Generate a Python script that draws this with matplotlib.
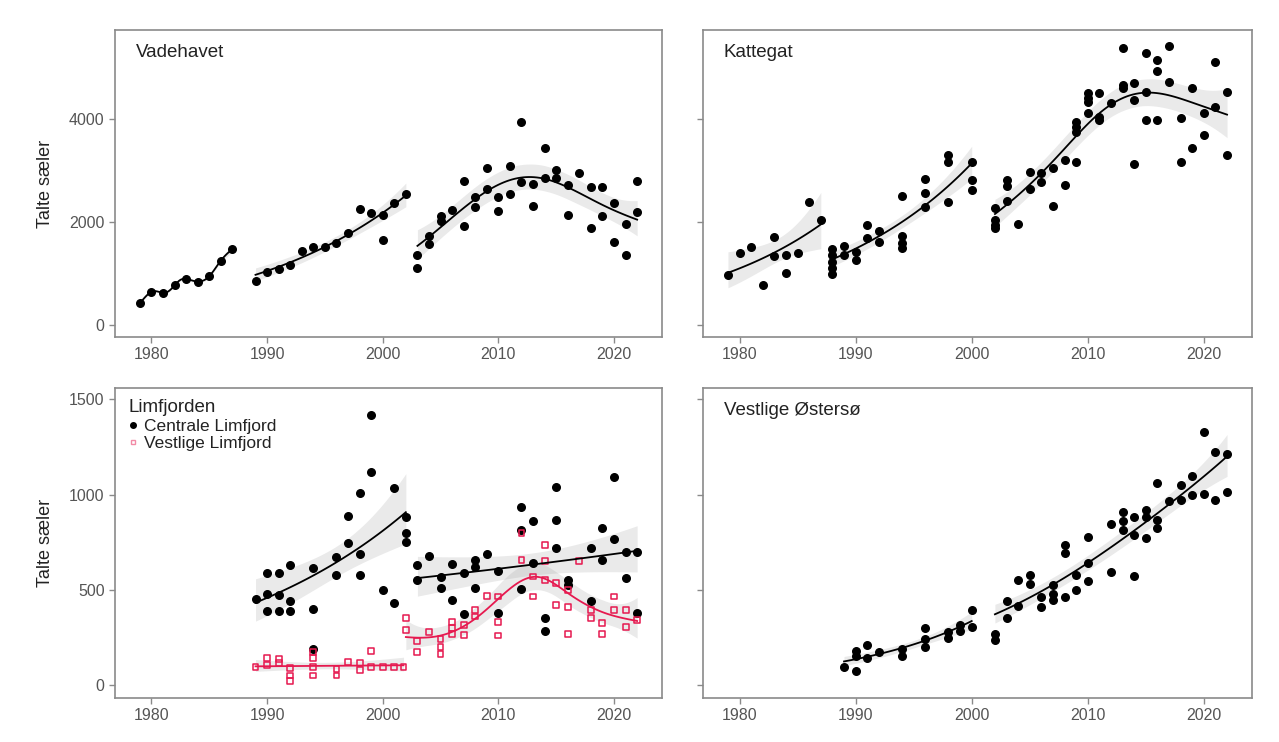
import numpy as np
import matplotlib.pyplot as plt
from matplotlib.lines import Line2D

plt.rcParams['font.family'] = ['Liberation Sans', 'DejaVu Sans']

# --- Data ---
# Vadehavet
vade_years = [1979, 1980, 1981, 1982, 1983, 1984, 1985, 1986, 1987,
              1989, 1990, 1991, 1992, 1993, 1994, 1995, 1996, 1997, 1998, 1999, 2000, 2000, 2001, 2002,
              2003, 2003, 2004, 2004, 2005, 2005, 2006, 2007, 2007, 2008, 2008, 2009, 2009, 2010, 2010,
              2011, 2011, 2012, 2012, 2013, 2013, 2014, 2014, 2015, 2015, 2016, 2016, 2017, 2018, 2018,
              2019, 2019, 2020, 2020, 2021, 2021, 2022, 2022]
vade_counts = [420, 650, 620, 770, 900, 840, 950, 1250, 1470,
               860, 1030, 1080, 1160, 1440, 1520, 1520, 1600, 1790, 2250, 2180, 2130, 1650, 2360, 2550,
               1100, 1360, 1580, 1720, 2020, 2110, 2230, 2800, 1930, 2480, 2300, 3040, 2650, 2480, 2220,
               3090, 2540, 3950, 2770, 2740, 2320, 3430, 2850, 3010, 2850, 2720, 2140, 2960, 2670, 1880,
               2670, 2120, 2370, 1620, 1970, 1350, 2800, 2200]
vade_segments = [(1979, 1987), (1989, 2002), (2003, 2022)]

# Kattegat
katt_years = [1979, 1980, 1981, 1982, 1983, 1983, 1984, 1984, 1985, 1986, 1987,
              1988, 1988, 1988, 1988, 1988, 1989, 1989, 1990, 1990, 1991, 1991, 1992, 1992,
              1994, 1994, 1994, 1994, 1996, 1996, 1996, 1998, 1998, 1998, 2000, 2000, 2000,
              2002, 2002, 2002, 2002, 2003, 2003, 2003, 2004, 2005, 2005, 2006, 2006, 2007, 2007,
              2008, 2008, 2009, 2009, 2009, 2009, 2010, 2010, 2010, 2010, 2011, 2011, 2011, 2012,
              2013, 2013, 2013, 2014, 2014, 2014, 2015, 2015, 2015, 2016, 2016, 2016, 2017, 2017,
              2018, 2018, 2019, 2019, 2020, 2020, 2021, 2021, 2022, 2022]
katt_counts = [980, 1390, 1510, 780, 1710, 1340, 1360, 1000, 1390, 2390, 2030,
               1480, 1350, 1230, 1100, 990, 1540, 1360, 1420, 1260, 1940, 1680, 1830, 1620,
               2510, 1720, 1600, 1500, 2830, 2560, 2290, 3300, 3170, 2380, 3170, 2810, 2620,
               2280, 2040, 1950, 1880, 2810, 2700, 2410, 1970, 2980, 2650, 2960, 2780, 3050, 2320,
               3200, 2720, 3950, 3850, 3750, 3160, 4500, 4400, 4330, 4110, 4500, 4040, 3980, 4320,
               5380, 4660, 4600, 4690, 4370, 3120, 5280, 4530, 3980, 5150, 4940, 3990, 5420, 4720,
               4010, 3170, 4610, 3430, 4110, 3690, 5110, 4240, 4530, 3300]
katt_segments = [(1979, 1987), (1988, 2000), (2002, 2022)]

# Limfjorden - Centrale Limfjord
cent_years = [1989, 1990, 1990, 1990, 1991, 1991, 1991, 1992, 1992, 1992, 1994, 1994, 1994,
              1996, 1996, 1997, 1997, 1998, 1998, 1998, 1999, 1999, 2000, 2001, 2001, 2002, 2002, 2002,
              2003, 2003, 2004, 2005, 2005, 2006, 2006, 2007, 2007, 2008, 2008, 2008, 2009, 2010, 2010,
              2012, 2012, 2012, 2013, 2013, 2014, 2014, 2015, 2015, 2015, 2016, 2016, 2018, 2018,
              2019, 2019, 2020, 2020, 2021, 2021, 2022, 2022]
cent_counts = [450, 590, 480, 390, 590, 475, 390, 630, 440, 390, 615, 400, 190,
               670, 580, 890, 745, 1010, 690, 580, 1420, 1120, 500, 1035, 430, 880, 800, 750,
               630, 550, 680, 570, 510, 635, 445, 590, 375, 655, 620, 510, 690, 600, 380,
               935, 815, 505, 860, 640, 350, 285, 1040, 865, 720, 550, 525, 720, 440,
               825, 655, 1090, 765, 700, 560, 700, 380]
cent_segments = [(1989, 2002), (2003, 2022)]

# Limfjorden - Vestlige Limfjord
vest_years = [1989, 1990, 1990, 1991, 1991, 1992, 1992, 1992, 1994, 1994, 1994, 1994,
              1996, 1996, 1997, 1998, 1998, 1999, 1999, 2000, 2001, 2001.8,
              2002, 2002, 2003, 2003, 2004, 2005, 2005, 2005, 2006, 2006, 2006, 2007, 2007,
              2008, 2008, 2009, 2010, 2010, 2010, 2012, 2012, 2013, 2013, 2014, 2014, 2014,
              2015, 2015, 2016, 2016, 2016, 2017, 2018, 2018, 2019, 2019, 2020, 2020, 2021, 2021, 2022]
vest_counts = [95, 140, 105, 135, 115, 90, 50, 20, 175, 140, 95, 50,
               85, 50, 120, 115, 80, 180, 95, 95, 95, 95,
               350, 290, 230, 175, 280, 240, 200, 165, 330, 300, 270, 315, 265,
               395, 360, 470, 465, 330, 260, 800, 655, 570, 465, 735, 650, 550,
               535, 420, 500, 410, 270, 650, 395, 350, 325, 270, 465, 395, 395, 305, 340]
vest_segments = [(1989, 2001.9), (2002, 2022)]

# Vestlige Østersø
oest_years = [1989, 1990, 1990, 1990, 1991, 1991, 1992, 1994, 1994, 1996, 1996, 1996,
              1998, 1998, 1999, 1999, 2000, 2000,
              2002, 2002, 2003, 2003, 2004, 2004, 2005, 2005, 2006, 2006, 2007, 2007, 2007,
              2008, 2008, 2008, 2009, 2009, 2010, 2010, 2010, 2012, 2012, 2013, 2013, 2013,
              2014, 2014, 2014, 2015, 2015, 2015, 2016, 2016, 2016, 2017, 2018, 2018,
              2019, 2019, 2020, 2020, 2021, 2021, 2022, 2022]
oest_counts = [95, 180, 150, 75, 210, 140, 175, 190, 150, 300, 240, 200,
               280, 245, 315, 285, 395, 305,
               270, 235, 440, 350, 550, 415, 580, 530, 465, 410, 525, 480, 445,
               735, 695, 465, 580, 500, 780, 640, 545, 845, 595, 910, 860, 815,
               885, 790, 575, 920, 885, 770, 1060, 865, 825, 965, 1050, 970,
               1100, 1000, 1330, 1005, 1225, 970, 1215, 1015]
oest_segments = [(1989, 2000), (2002, 2022)]

panel_titles = ['Vadehavet', 'Kattegat', 'Vestlige Østersø']
legend_title = 'Limfjorden'
legend_labels = ['Centrale Limfjord', 'Vestlige Limfjord']
y_label = 'Talte sæler'
x_ticks = [1980, 1990, 2000, 2010, 2020]

RED = '#e6194f'
TICK_GREY = '#555555'
FRAME_GREY = '#8a8a8a'


def bspline_basis(x, lo, hi, nseg=7, deg=3):
    dx = (hi - lo) / nseg
    knots = lo + dx * np.arange(-deg, nseg + deg + 1)
    x = np.asarray(x, float)[:, None]
    B = ((x >= knots[:-1]) & (x < knots[1:])).astype(float)
    for k in range(1, deg + 1):
        left = (x - knots[:-(k + 1)]) / (knots[k:-1] - knots[:-(k + 1)])
        right = (knots[k + 1:] - x) / (knots[k + 1:] - knots[1:-k])
        B = left * B[:, :-1] + right * B[:, 1:]
    return B


def smooth(x, y, grid, gamma=1.4):
    # quasi-poisson penalised spline (log link), smoothness picked by GCV
    x = np.asarray(x, float)
    y = np.asarray(y, float)
    n = len(x)
    lo, hi = x.min() - 0.01, x.max() + 0.01
    B = bspline_basis(x, lo, hi)
    nb = B.shape[1]
    D = np.diff(np.eye(nb), 2, axis=0)
    P = D.T @ D
    beta = np.linalg.solve(B.T @ B + 1e-3 * P, B.T @ np.log(y))
    for _ in range(40):
        eta = B @ beta
        mu = np.exp(eta)
        w = mu
        z = eta + (y - mu) / mu
        BtW = B.T * w
        best = None
        for lam in np.logspace(-3, 8, 70) * w.mean():
            Ainv = np.linalg.inv(BtW @ B + lam * P)
            Hz = B @ (Ainv @ (BtW @ z))
            tr = np.trace(B @ Ainv @ BtW)
            dev = np.sum(w * (z - Hz) ** 2)
            gcv = n * dev / (n - gamma * tr) ** 2
            if best is None or gcv < best[0]:
                best = (gcv, Ainv, dev / (n - tr))
        _, Ainv, phi = best
        beta_new = Ainv @ (BtW @ z)
        if np.max(np.abs(beta_new - beta)) < 1e-7:
            beta = beta_new
            break
        beta = beta_new
    Bg = bspline_basis(grid, lo, hi)
    eta_g = Bg @ beta
    se = np.sqrt(np.einsum('ij,jk,ik->i', Bg, Ainv, Bg) * phi)
    return np.exp(eta_g), np.exp(eta_g - 1.96 * se), np.exp(eta_g + 1.96 * se)


def draw_series(ax, years, counts, segments, color, hollow=False):
    years = np.asarray(years, float)
    counts = np.asarray(counts, float)
    for lo, hi in segments:
        m = (years >= lo) & (years <= hi)
        xs, ys = years[m], counts[m]
        grid = np.linspace(xs.min(), xs.max(), 80)
        fit, low, high = smooth(xs, ys, grid)
        ax.fill_between(grid, low, high, color='#a0a0a0', alpha=0.22, lw=0, zorder=1)
        ax.plot(grid, fit, color=color, lw=1.3, zorder=4)
    if hollow:
        ax.scatter(years, counts, s=18, marker='s', facecolors='none', edgecolors=color, linewidths=1.1, zorder=3)
    else:
        ax.scatter(years, counts, s=30, color=color, zorder=3)


fig = plt.figure(figsize=(12.79, 7.42), dpi=100)
W, H = 1279, 742
def add_axes(l, t, r, b):
    return fig.add_axes([l / W, 1 - b / H, (r - l) / W, (b - t) / H])

ax_tl = add_axes(115, 30, 662, 337)
ax_tr = add_axes(703, 30, 1252, 337)
ax_bl = add_axes(115, 388, 662, 698)
ax_br = add_axes(703, 388, 1252, 698)

draw_series(ax_tl, vade_years, vade_counts, vade_segments, 'black')
draw_series(ax_tr, katt_years, katt_counts, katt_segments, 'black')
draw_series(ax_bl, cent_years, cent_counts, cent_segments, 'black')
draw_series(ax_bl, vest_years, vest_counts, vest_segments, RED, hollow=True)
draw_series(ax_br, oest_years, oest_counts, oest_segments, 'black')

for ax in (ax_tl, ax_tr, ax_bl, ax_br):
    ax.set_xlim(1976.85, 2024.15)
    ax.set_xticks(x_ticks)
    ax.tick_params(colors=FRAME_GREY, labelcolor=TICK_GREY, labelsize=11.5, length=4, width=1)
    for s in ax.spines.values():
        s.set_color(FRAME_GREY)
        s.set_linewidth(1.2)

for ax in (ax_tl, ax_tr):
    ax.set_ylim(-233, 5728)
    ax.set_yticks([0, 2000, 4000])
for ax in (ax_bl, ax_br):
    ax.set_ylim(-68, 1560)
    ax.set_yticks([0, 500, 1000, 1500])
for ax in (ax_tr, ax_br):
    ax.tick_params(labelleft=False)

for ax in (ax_tl, ax_bl):
    ax.set_ylabel(y_label, fontsize=13, color='#222222')
    ax.yaxis.set_label_coords(-0.112, 0.5)

for ax, name in zip((ax_tl, ax_tr, ax_br), panel_titles):
    ax.text(0.038, 0.955, name, transform=ax.transAxes, ha='left', va='top', fontsize=13.5, color='#222222')

handles = [Line2D([], [], ls='none', marker='o', ms=4, color='black'),
           Line2D([], [], ls='none', marker='s', ms=3.5, mfc='none', mec=RED, alpha=0.5)]
leg = ax_bl.legend(handles, legend_labels, title=legend_title, loc='upper left',
                   bbox_to_anchor=(0.025, 0.965), frameon=False, fontsize=12.5, title_fontsize=13.5,
                   handlelength=0.5, handletextpad=0.4, borderpad=0, borderaxespad=0,
                   labelspacing=0.15, alignment='left')
for t in leg.get_texts():
    t.set_color('#222222')
leg.get_title().set_color('#222222')

fig.savefig('out.png', dpi=100, facecolor='white')
